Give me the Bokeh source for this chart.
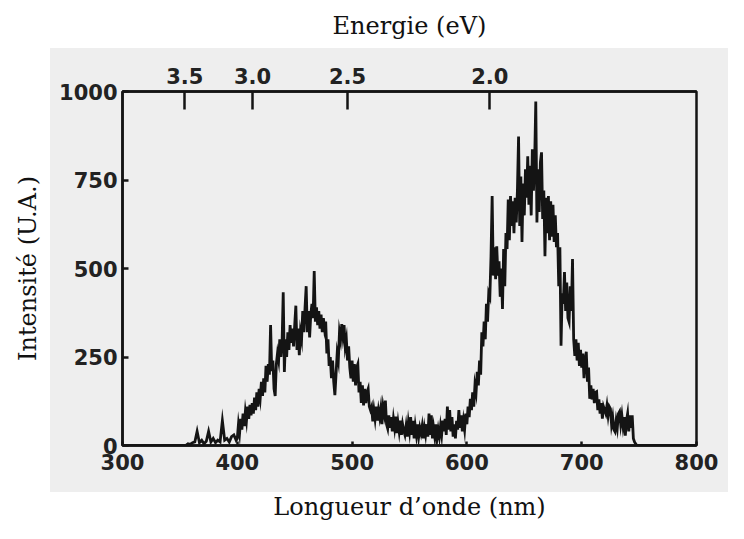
from bokeh.plotting import figure
from bokeh.models import (Range1d, LinearAxis, FixedTicker, CustomJSTickFormatter,
                          ColumnDataSource)
from bokeh.embed import file_html
from bokeh.resources import INLINE

# ---- data ----
# sampling grid of the spectrum (nm)
wl_edges = [300, 350]
wl_tail = [800]
wl_low_step = list(range(355, 400, 2))    # 355 ... 399 nm
wl_fine_step = list(range(400, 751))      # 400 ... 750 nm

edge_intensity = [0, 0]
tail_intensity = [0]
low_intensity = [0, 5, 3, 8, 10, 40, 8, 15, 5, 12, 40, 10, 20, 8, 15, 10, 70, 15, 20, 10, 25, 30, 15]
fine_intensity = [
    20, 60, 35, 75, 45, 90, 55, 95, 70, 110,          # 400
    75, 115, 85, 120, 90, 135, 100, 150, 110, 160,    # 410
    135, 180, 140, 190, 150, 225, 180, 230, 200, 340,  # 420
    210, 240, 160, 140, 230, 260, 240, 300, 250, 290,  # 430
    433, 208, 300, 250, 320, 270, 340, 290, 330, 280,  # 440
    340, 395, 270, 330, 255, 320, 300, 380, 320, 390,  # 450
    450, 320, 380, 305, 370, 400, 360, 493, 350, 390,  # 460
    340, 380, 330, 370, 320, 360, 330, 350, 260, 300,  # 470
    225, 250, 190, 240, 180, 142, 200, 260, 240, 320,  # 480
    300, 343, 310, 340, 280, 300, 240, 280, 220, 190,  # 490
    240, 180, 230, 170, 220, 230, 150, 180, 120, 170,  # 500
    113, 160, 120, 150, 160, 110, 100, 110, 68, 100,   # 510
    75, 110, 70, 100, 80, 105, 60, 110, 90, 127,       # 520
    60, 48, 85, 50, 80, 40, 75, 50, 82, 35,            # 530
    65, 40, 70, 30, 60, 42, 30, 55, 25, 65,            # 540
    40, 80, 30, 70, 20, 55, 30, 60, 25, 50,            # 550
    35, 55, 20, 50, 30, 60, 25, 90, 30, 85,            # 560
    20, 50, 25, 60, 20, 45, 25, 55, 30, 70,            # 570
    40, 75, 30, 110, 45, 100, 40, 80, 25, 60,          # 580
    20, 70, 45, 100, 50, 85, 40, 70, 45, 90,           # 590
    60, 110, 80, 132, 100, 150, 110, 170, 150, 208,    # 600
    170, 240, 200, 320, 280, 350, 300, 400, 350, 430,  # 610
    420, 535, 705, 480, 560, 470, 563, 480, 520, 420,  # 620
    500, 386, 555, 450, 600, 555, 695, 580, 705, 620,  # 630
    690, 600, 700, 630, 720, 873, 620, 760, 575, 740,  # 640
    650, 780, 700, 817, 680, 790, 650, 837, 720, 800,  # 650
    972, 630, 780, 660, 800, 828, 640, 720, 535, 700,  # 660
    600, 705, 580, 690, 590, 680, 575, 650, 560, 600,  # 670
    450, 560, 282, 430, 400, 490, 380, 460, 360, 349,  # 680
    450, 380, 527, 300, 253, 300, 240, 290, 225, 270,  # 690
    220, 260, 190, 240, 265, 180, 220, 132, 170, 130,  # 700
    160, 120, 150, 152, 100, 130, 90, 120, 76, 110,    # 710
    100, 90, 113, 85, 110, 104, 60, 80, 45, 39,        # 720
    70, 50, 90, 96, 60, 85, 55, 80, 28, 70,            # 730
    90, 40, 85, 50, 85, 20, 10, 5, 0, 0,               # 740
    0,                                                 # 750
]

wavelength_nm = wl_edges + wl_low_step + wl_fine_step + wl_tail
intensity = edge_intensity + low_intensity + fine_intensity + tail_intensity
assert len(wavelength_nm) == len(intensity), (len(wavelength_nm), len(intensity))

energy_ticks_ev = [3.5, 3.0, 2.5, 2.0]
wavelength_ticks = [300, 400, 500, 600, 700, 800]
intensity_ticks = [0, 250, 500, 750, 1000]

SERIF = "DejaVu Serif"
SANS = "DejaVu Sans"
INK = "#141414"

p = figure(width=728, height=523, output_backend="svg", toolbar_location=None,
           x_range=Range1d(300, 800), y_range=Range1d(0, 1000),
           x_axis_location=None, y_axis_location=None,
           min_border_left=122, min_border_right=32, min_border_top=91, min_border_bottom=74)
p.grid.visible = False
p.background_fill_color = "#eeeeee"
p.border_fill_color = None
p.outline_line_color = INK
p.outline_line_width = 2.5
# light grey tint of the scanned page behind the chart
p.styles = {
    "background-color": "white",
    "background-image": "linear-gradient(#eeeeee, #eeeeee)",
    "background-repeat": "no-repeat",
    "background-position": "50px 48px",
    "background-size": "690px 444px",
}

src = ColumnDataSource(dict(x=wavelength_nm, y=intensity))
p.line("x", "y", source=src, line_color=INK, line_width=2.8, line_join="miter")

def style(ax, tick_in, tick_out, size):
    ax.axis_line_color = INK
    ax.axis_line_width = 2.5
    ax.major_tick_line_color = INK
    ax.major_tick_line_width = 2.5
    ax.major_tick_in = tick_in
    ax.major_tick_out = tick_out
    ax.minor_tick_line_color = None
    ax.major_label_text_font = SANS
    ax.major_label_text_font_style = "bold"
    ax.major_label_text_font_size = size
    ax.major_label_text_color = "#222222"
    ax.axis_label_text_font = SERIF
    ax.axis_label_text_font_style = "normal"
    ax.axis_label_text_font_size = "24px"
    ax.axis_label_text_color = "#111111"

bottom = LinearAxis(ticker=FixedTicker(ticks=wavelength_ticks),
                    axis_label="Longueur d\u2019onde (nm)")
style(bottom, 4, 0, "21px")
bottom.major_label_standoff = 8
bottom.axis_label_standoff = 20
p.add_layout(bottom, "below")

left = LinearAxis(ticker=FixedTicker(ticks=intensity_ticks), axis_label="Intensité (U.A.)")
style(left, 6, 0, "21px")
left.major_label_standoff = 5
left.axis_label_standoff = 14
p.add_layout(left, "left")

top = LinearAxis(ticker=FixedTicker(ticks=[1240.0 / e for e in energy_ticks_ev]),
                 formatter=CustomJSTickFormatter(code="return (1240/tick).toFixed(1);"),
                 axis_label="Energie (eV)")
style(top, 18, 0, "21px")
top.major_label_standoff = 8
top.axis_label_standoff = 25
p.add_layout(top, "above")

open("out.html", "w").write(file_html(p, INLINE))
